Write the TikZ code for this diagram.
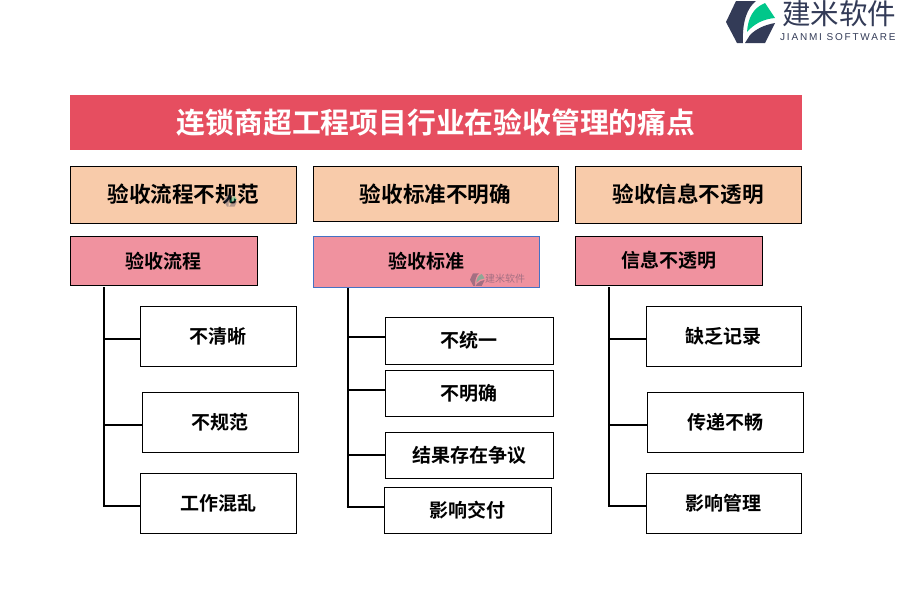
\documentclass[tikz,border=0pt]{standalone}
\usepackage{fontspec}
\setmainfont{Noto Sans CJK SC}[BoldFont={Noto Sans CJK SC Bold}]
\newfontfamily\latinfont{Liberation Sans}[LetterSpace=18]
\usetikzlibrary{
  positioning
}
\definecolor{ink}{HTML}{000000}
\definecolor{titlered}{HTML}{E64E60}
\definecolor{headpeach}{HTML}{F8CBAA}
\definecolor{subpink}{HTML}{F0929F}
\definecolor{subblue}{HTML}{4472C4}
\definecolor{logonavy}{HTML}{333B57}
\definecolor{logogreen}{HTML}{00C78A}
\tikzset{
  titlebox/.style={
    fill=titlered,
    text=white,
    font=\fontsize{28.8}{32}\selectfont\bfseries,
    minimum width=732pt,
    minimum height=55pt,
    outer sep=0pt,
    inner sep=0pt
  },
  headbox/.style={
    draw=ink,
    fill=headpeach,
    line width=1pt,
    font=\fontsize{21.6}{24}\selectfont\bfseries,
    outer sep=0pt,
    inner sep=0pt
  },
  subbox/.style={
    draw=ink,
    fill=subpink,
    line width=1pt,
    font=\fontsize{19}{22}\selectfont\bfseries,
    outer sep=0pt,
    inner sep=0pt
  },
  leafbox/.style={
    draw=ink,
    fill=white,
    line width=1pt,
    font=\fontsize{19}{22}\selectfont\bfseries,
    outer sep=0pt,
    inner sep=0pt
  },
  branch/.style={
    draw=ink,
    line width=2pt
  },
  logotext/.style={
    text=logonavy,
    inner sep=0pt
  },
  logomark/.pic={
    \fill[logonavy] (10,1) -- (30,1) .. controls (21,8) and (16,22) .. (17,43)
      -- (11,43) -- (0,22) -- cycle;
    \fill[logonavy] (49,23) -- (39,43) -- (19,43) -- (24,35) .. controls (30,29) and (38,25) .. (49,23) -- cycle;
    \fill[logogreen] (21,32) .. controls (22,18) and (27,8) .. (39,3)
      -- (49,18) .. controls (37,19) and (28,24) .. (21,32) -- cycle;
  }
}

\begin{document}
\begin{tikzpicture}[x=1pt, y=-1pt]
  \useasboundingbox (0,0) rectangle (900,600);

  \node[titlebox, anchor=north west] (title) at (70,95) {连锁商超工程项目行业在验收管理的痛点};

  \node[headbox, minimum width=226pt, minimum height=57pt, below right=16pt and 0pt of title.south west] (head1) {验收流程不规范};
  \node[headbox, minimum width=245pt, minimum height=55.5pt, right=17pt of head1.north east, anchor=north west] (head2) {验收标准不明确};
  \node[headbox, minimum width=226pt, minimum height=57pt, right=17pt of head2.north east, anchor=north west] (head3) {验收信息不透明};

  \node[subbox, minimum width=187pt, minimum height=49.5pt, below right=13pt and 0pt of head1.south west] (sub1) {验收流程};
  \node[subbox, draw=subblue, minimum width=226pt, minimum height=51pt, below right=14.5pt and 0pt of head2.south west] (sub2) {验收标准};
  \node[subbox, minimum width=187pt, minimum height=49.5pt, below right=13pt and 0pt of head3.south west] (sub3) {信息不透明};

  \node[leafbox, minimum width=156pt, minimum height=60pt, below right=20.5pt and 70pt of sub1.south west] (leaf11) {不清晰};
  \node[leafbox, minimum width=156pt, minimum height=60pt, below right=26pt and 2pt of leaf11.south west] (leaf12) {不规范};
  \node[leafbox, minimum width=156pt, minimum height=60pt, below right=107pt and 0pt of leaf11.south west] (leaf13) {工作混乱};

  \node[leafbox, minimum width=168pt, minimum height=47pt, below right=30pt and 72pt of sub2.south west] (leaf21) {不统一};
  \node[leafbox, minimum width=168pt, minimum height=46pt, below right=6pt and 0pt of leaf21.south west] (leaf22) {不明确};
  \node[leafbox, minimum width=168pt, minimum height=46pt, below right=16.5pt and 0pt of leaf22.south west] (leaf23) {结果存在争议};
  \node[leafbox, minimum width=167pt, minimum height=46pt, below right=8.5pt and -1pt of leaf23.south west] (leaf24) {影响交付};

  \node[leafbox, minimum width=155pt, minimum height=60pt, below right=20.5pt and 71pt of sub3.south west] (leaf31) {缺乏记录};
  \node[leafbox, minimum width=156pt, minimum height=60pt, below right=26pt and 1pt of leaf31.south west] (leaf32) {传递不畅};
  \node[leafbox, minimum width=155pt, minimum height=60pt, below right=107pt and 0pt of leaf31.south west] (leaf33) {影响管理};

  \coordinate[below right=1.5pt and 34pt of sub1.south west] (trunk1);
  \coordinate[below right=1pt and 35pt of sub2.south west] (trunk2);
  \coordinate[below right=1.5pt and 34pt of sub3.south west] (trunk3);

  \draw[branch] (trunk1) |- ([yshift=-3pt]leaf13.west);
  \draw[branch] (trunk1 |- leaf11.west) ++(0,3) -- ([yshift=-3pt]leaf11.west);
  \draw[branch] (trunk1 |- leaf12.west) ++(0,3) -- ([yshift=-3pt]leaf12.west);

  \draw[branch] (trunk2) -- ([yshift=3pt]trunk2 |- leaf24.west);
  \draw[branch] (trunk2 |- leaf24.west) ++(-1.5,-3) -- ([yshift=3pt]leaf24.west);
  \draw[branch] (trunk2 |- leaf21.west) ++(0,-3.5) -- ([yshift=3.5pt]leaf21.west);
  \draw[branch] (trunk2 |- leaf22.west) ++(0,-3) -- ([yshift=3pt]leaf22.west);
  \draw[branch] (trunk2 |- leaf23.west) ++(0,-1) -- ([yshift=1pt]leaf23.west);

  \draw[branch] (trunk3) |- ([yshift=-3pt]leaf33.west);
  \draw[branch] (trunk3 |- leaf31.west) ++(0,3) -- ([yshift=-3pt]leaf31.west);
  \draw[branch] (trunk3 |- leaf32.west) ++(0,3) -- ([yshift=-3pt]leaf32.west);

  % logo
  \pic at (726,0) {logomark};
  \node[logotext, anchor=west, font=\fontsize{28.5}{30}\selectfont] (logocn) at (782,13.5) {建米软件};
  \node[logotext, anchor=west, font=\latinfont\fontsize{10}{12}\selectfont] (logoen) at (780,37.5) {JIANMI SOFTWARE};

  % watermarks
  \pic[scale=0.3, opacity=.4] at (470,273) {logomark};
  \node[logotext, opacity=.4, anchor=west, font=\fontsize{10}{11}\selectfont] (marksub) at (485,279) {建米软件};
  \pic[scale=0.27, opacity=.35] at (224,195) {logomark};
\end{tikzpicture}
\end{document}
